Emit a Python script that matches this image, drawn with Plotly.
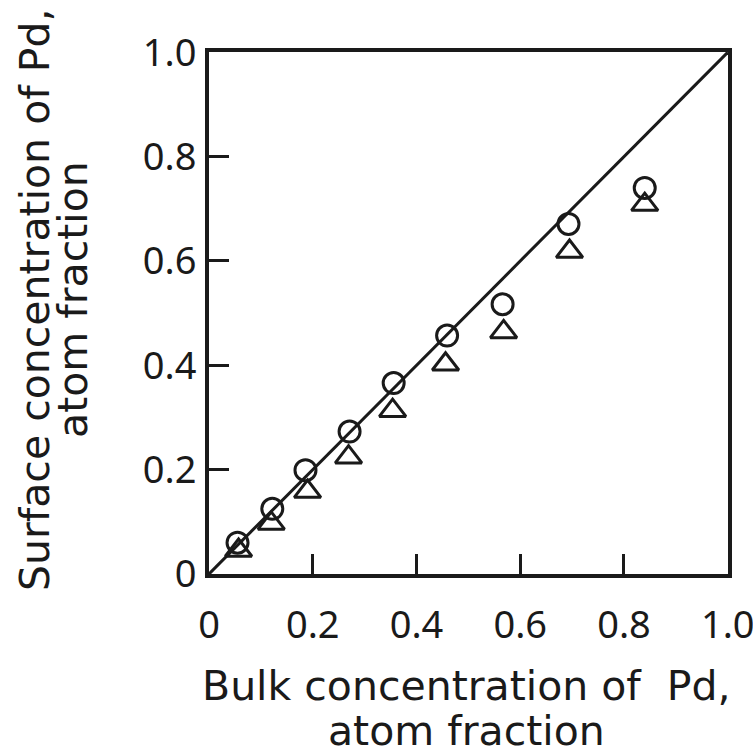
import plotly.graph_objects as go

# Data
bulk_circles = [0.055, 0.122, 0.186, 0.271, 0.356, 0.459, 0.566, 0.693, 0.840]
surf_circles = [0.060, 0.125, 0.199, 0.273, 0.366, 0.457, 0.517, 0.671, 0.740]
bulk_triangles = [0.057, 0.120, 0.190, 0.269, 0.354, 0.456, 0.568, 0.695, 0.840]
surf_triangles = [0.045, 0.097, 0.158, 0.224, 0.313, 0.402, 0.464, 0.618, 0.708]
diag_x = [0.0, 1.0]
diag_y = [0.0, 1.0]
tick_vals = [0, 0.2, 0.4, 0.6, 0.8, 1.0]
tick_text = ["0", "0.2", "0.4", "0.6", "0.8", "1.0"]
x_title_lines = ["Bulk concentration of  Pd,", "atom fraction"]
y_title_lines = ["Surface concentration of Pd,", "atom fraction"]

INK = "#1a1a1a"
TICKFONT = "Noto Sans"
TITLEFONT = "DejaVu Sans"

fig = go.Figure()
fig.add_trace(go.Scatter(x=diag_x, y=diag_y, mode="lines",
                         line=dict(color=INK, width=3), showlegend=False,
                         cliponaxis=False))
fig.add_trace(go.Scatter(x=bulk_circles, y=surf_circles, mode="markers",
                         marker=dict(symbol="circle-open", size=21, color=INK,
                                     line=dict(color=INK, width=3)),
                         showlegend=False))
fig.add_trace(go.Scatter(x=bulk_triangles, y=surf_triangles, mode="markers",
                         marker=dict(symbol="triangle-up-open", size=23, color=INK,
                                     line=dict(color=INK, width=3)),
                         showlegend=False))

axis_common = dict(
    range=[0, 1.0005], tickvals=tick_vals, ticktext=tick_text,
    ticks="inside", ticklen=20, tickwidth=2.5, tickcolor=INK,
    showline=True, linewidth=4, linecolor=INK, mirror=True,
    showgrid=False, zeroline=False, ticklabeloverflow="allow",
    tickfont=dict(family=TICKFONT, size=38, color=INK),
    fixedrange=True,
)

fig.update_xaxes(**axis_common, ticklabelstandoff=14)
fig.update_yaxes(**axis_common, ticklabelstandoff=1)

tfont = dict(family=TITLEFONT, size=41, color=INK)
annotations = [
    dict(text=x_title_lines[0], x=0.497, y=-0.2146, textangle=0),
    dict(text=x_title_lines[1], x=0.497, y=-0.300, textangle=0),
    dict(text=y_title_lines[0], x=-0.335, y=0.525, textangle=-90),
    dict(text=y_title_lines[1], x=-0.262, y=0.525, textangle=-90),
]
for a in annotations:
    fig.add_annotation(xref="paper", yref="paper", showarrow=False,
                       xanchor="center", yanchor="middle", font=tfont, **a)

fig.update_layout(
    width=753, height=756,
    margin=dict(l=209, r=25, t=52, b=182, autoexpand=False),
    paper_bgcolor="white", plot_bgcolor="white",
    showlegend=False,
)

fig.write_html("out.html")
